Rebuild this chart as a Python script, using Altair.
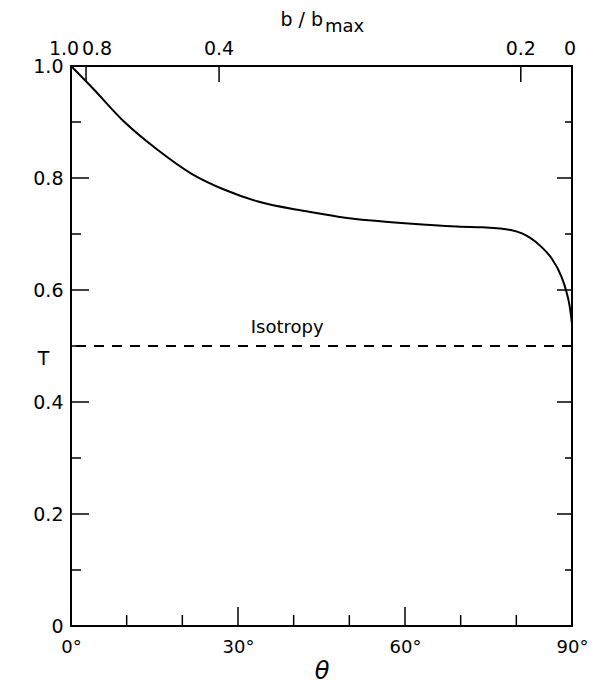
import altair as alt
import pandas as pd

# Curve T(theta)
theta = [0, 3.65, 9.6, 15.6, 21.6, 27.6, 33.6, 42, 48, 54, 60, 66, 70, 74, 77, 79, 81, 82.5, 84.5, 86.3, 88.1, 89.0, 89.6, 90]
T_vals = [1.0, 0.963, 0.900, 0.850, 0.808, 0.779, 0.758, 0.741, 0.731, 0.724, 0.719, 0.715, 0.713, 0.712, 0.710, 0.707, 0.701, 0.693, 0.677, 0.657, 0.624, 0.597, 0.570, 0.540]

isotropy = 0.5

# Axis ticks
x_ticks_major = [30, 60]
x_ticks_minor = [10, 20, 40, 50, 70, 80]
x_labels = [0, 30, 60, 90]
y_ticks_major = [0.2, 0.4, 0.6, 0.8]
y_ticks_minor = [0.1, 0.3, 0.5, 0.7, 0.9]
y_labels = [0, 0.2, 0.4, 0.6, 0.8, 1.0]

# Top axis: b/b_max at theta positions
b_labels = ["1.0", "0.8", "0.4", "0.2", "0"]
b_theta = [0, 2.7, 26.6, 80.8, 90]
b_tick_theta = [2.7, 26.6, 80.8]

W, H = 501, 560
FONT = "DejaVu Sans"
FS = 19

xs = alt.Scale(domain=[0, 90], nice=False, zero=False)
ys = alt.Scale(domain=[0, 1], nice=False, zero=False)

curve_df = pd.DataFrame({"theta": theta, "T": T_vals})

curve = alt.Chart(curve_df).mark_line(color="black", strokeWidth=2, interpolate="monotone").encode(
    x=alt.X("theta:Q", scale=xs, axis=alt.Axis(
        values=x_labels, labelExpr="datum.value + '°'", ticks=False, tickSize=0, domain=False, grid=False,
        labelFont=FONT, labelFontSize=18, labelColor="black", labelPadding=12,
        title="θ", titleFont=FONT, titleFontSize=24, titleFontStyle="italic", titleFontWeight="normal",
        titleColor="black", titleY=45, titleBaseline="middle", labelFlush=False)),
    y=alt.Y("T:Q", scale=ys, axis=alt.Axis(
        values=y_labels, labelExpr="datum.value == 0 ? '0' : format(datum.value, '.1f')",
        ticks=False, tickSize=0, domain=False, grid=False,
        labelFont=FONT, labelFontSize=FS, labelColor="black", labelPadding=8,
        title="T", titleFont=FONT, titleFontSize=19, titleFontWeight="normal", titleColor="black",
        titleAngle=0, titleX=-28, titleY=292, titleAlign="center", titleBaseline="middle", labelFlush=False)),
)

dashed = alt.Chart(pd.DataFrame({"T": [isotropy]})).mark_rule(
    color="black", strokeWidth=2, strokeDash=[10, 8]).encode(y=alt.Y("T:Q", scale=ys))

iso_text = alt.Chart(pd.DataFrame({"theta": [32.3], "T": [0.523], "label": ["Isotropy"]})).mark_text(
    font=FONT, fontSize=18, align="left", baseline="alphabetic", color="black").encode(
    x=alt.X("theta:Q", scale=xs), y=alt.Y("T:Q", scale=ys), text="label:N")

def xrule(vals, y0, y1):
    return alt.Chart(pd.DataFrame({"theta": vals})).mark_rule(color="black", strokeWidth=1.5).encode(
        x=alt.X("theta:Q", scale=xs), y=alt.value(y0), y2=alt.value(y1))

def yrule(vals, x0, x1):
    return alt.Chart(pd.DataFrame({"T": vals})).mark_rule(color="black", strokeWidth=1.5).encode(
        y=alt.Y("T:Q", scale=ys), x=alt.value(x0), x2=alt.value(x1))

ticks = [
    xrule(x_ticks_major, H, H - 19),
    xrule(x_ticks_minor, H, H - 11),
    xrule(b_tick_theta, 0, 16),
    yrule(y_ticks_major, 0, 18),
    yrule(y_ticks_minor, 0, 10),
    yrule(y_ticks_major, W, W - 15),
    yrule(y_ticks_minor, W, W - 7),
]

top_df = pd.DataFrame({"theta": b_theta, "label": b_labels})

def top_text(label, align, dx):
    return alt.Chart(top_df).transform_filter(alt.datum.label == label).mark_text(
        font=FONT, fontSize=FS, align=align, baseline="alphabetic", color="black", dx=dx).encode(
        x=alt.X("theta:Q", scale=xs), y=alt.value(-11), text="label:N")

top_labels = [
    top_text("1.0", "center", -7),
    top_text("0.8", "center", 11),
    top_text("0.4", "center", 0),
    top_text("0.2", "center", 0),
    top_text("0", "center", -2),
]

title_b = alt.Chart(pd.DataFrame({"t": ["b / b"]})).mark_text(
    font=FONT, fontSize=19, align="right", baseline="alphabetic", color="black").encode(
    x=alt.value(252), y=alt.value(-40), text="t:N")
title_max = alt.Chart(pd.DataFrame({"t": ["max"]})).mark_text(
    font=FONT, fontSize=18, align="left", baseline="alphabetic", color="black").encode(
    x=alt.value(254), y=alt.value(-34), text="t:N")

chart = alt.layer(curve, dashed, iso_text, *ticks, *top_labels, title_b, title_max).properties(
    width=W, height=H,
    autosize=alt.AutoSizeParams(type="none"),
    padding={"left": 63, "top": 58, "right": 17, "bottom": 58},
    background="white",
).configure_view(stroke="black", strokeWidth=2)

chart.save("out.html", embed_options={"renderer": "svg", "actions": False})
